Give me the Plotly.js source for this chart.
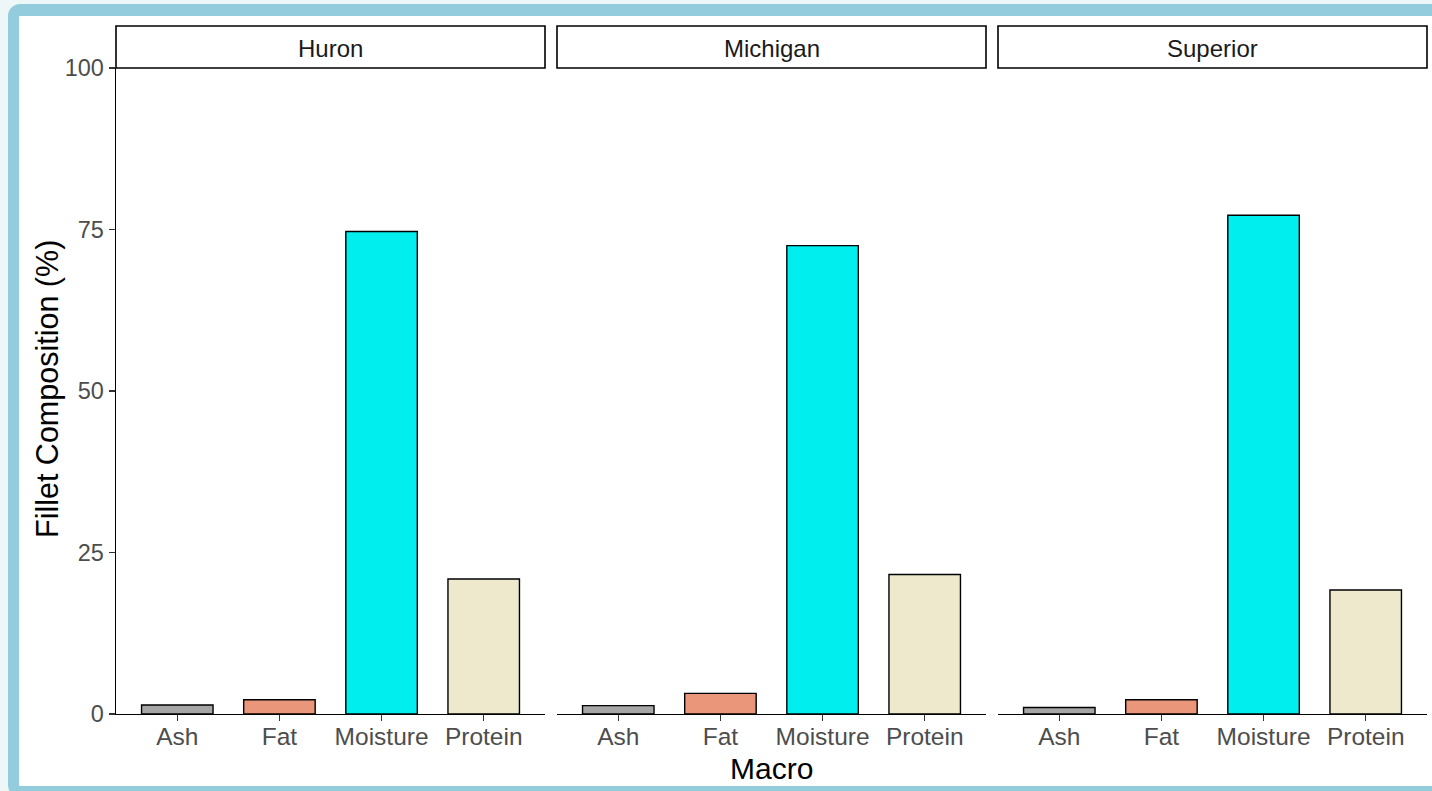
<!DOCTYPE html>
<html>
<head>
<meta charset="utf-8">
<script src="https://cdn.plot.ly/plotly-3.0.1.min.js"></script>
<style>
  html, body { margin:0; padding:0; width:1432px; height:791px; overflow:hidden; background:#eef7f8; }
  #frame { position:absolute; left:8px; top:4px; width:1440px; box-sizing:border-box;
           border:11px solid #93cddd; border-top-width:12px; border-radius:12px; background:#ffffff; height:793px; }
  #chart { position:absolute; left:0; top:0; width:1432px; height:791px; }
</style>
</head>
<body>
<div id="frame"></div>
<div id="chart"></div>
<script>
// ---- data ----
const macros = ["Ash", "Fat", "Moisture", "Protein"];
const lakes = ["Huron", "Michigan", "Superior"];
const huron = [1.4, 2.2, 74.7, 20.9];
const michigan = [1.3, 3.2, 72.5, 21.6];
const superior = [1.0, 2.2, 77.2, 19.2];
const macroColors = ["#a6a6a6", "#e9967a", "#00eeee", "#eee8cd"];
const yTicks = [0, 25, 50, 75, 100];

// ---- layout helpers (pixel -> paper) ----
const W = 1432, H = 791;
const px = v => v / W;
const py = v => 1 - v / H;
const panels = [[116, 545], [557, 986], [998, 1427]];
const yTop = 68, yBot = 714;

const font = "Liberation Sans, Arial, sans-serif";
const series = [huron, michigan, superior];
const traces = series.map((vals, i) => ({
  type: "bar",
  x: macros,
  y: vals,
  width: 0.7,
  xaxis: i === 0 ? "x" : "x" + (i + 1),
  yaxis: "y",
  marker: { color: macroColors, line: { color: "#000000", width: 1.4 } },
  showlegend: false,
  hoverinfo: "x+y"
}));

const layout = {
  width: W, height: H, autosize: false,
  margin: { l: 0, r: 0, t: 0, b: 0, pad: 0 },
  paper_bgcolor: "rgba(0,0,0,0)",
  plot_bgcolor: "rgba(0,0,0,0)",
  showlegend: false,
  bargap: 0.3,
  yaxis: {
    domain: [py(yBot), py(yTop)],
    range: [0, 100],
    anchor: "x",
    tickvals: yTicks,
    ticktext: yTicks.map(String),
    ticks: "outside", ticklen: 6, tickwidth: 1.3, tickcolor: "#333333",
    showline: true, linecolor: "#000000", linewidth: 1.4,
    showgrid: false, zeroline: false,
    tickfont: { family: font, size: 23.5, color: "#4d4d4d" },
    fixedrange: true
  },
  shapes: [],
  annotations: []
};

panels.forEach((p, i) => {
  const key = i === 0 ? "xaxis" : "xaxis" + (i + 1);
  layout[key] = {
    domain: [px(p[0]), px(p[1])],
    anchor: "y",
    type: "category",
    categoryorder: "array",
    categoryarray: macros,
    range: [-0.6, 3.6],
    ticks: "outside", ticklen: 6, tickwidth: 1.3, tickcolor: "#333333",
    ticklabelstandoff: -6,
    showline: true, linecolor: "#000000", linewidth: 1.4,
    showgrid: false, zeroline: false,
    tickfont: { family: font, size: 24.5, color: "#4d4d4d" },
    fixedrange: true
  };
  // strip box
  layout.shapes.push({
    type: "rect", xref: "paper", yref: "paper",
    x0: px(p[0]), x1: px(p[1]), y0: py(68), y1: py(26),
    line: { color: "#000000", width: 1.6 }, fillcolor: "#ffffff", layer: "above"
  });
  layout.annotations.push({
    xref: "paper", yref: "paper",
    x: px((p[0] + p[1]) / 2), y: py(48),
    xanchor: "center", yanchor: "middle",
    text: lakes[i], showarrow: false,
    font: { family: font, size: 24, color: "#1a1a1a" }
  });
});

layout.annotations.push({
  xref: "paper", yref: "paper",
  x: px(771), y: py(768),
  xanchor: "center", yanchor: "middle",
  text: "Macro", showarrow: false,
  font: { family: font, size: 30, color: "#000000" }
});
layout.annotations.push({
  xref: "paper", yref: "paper",
  x: px(47), y: py(389),
  xanchor: "center", yanchor: "middle",
  textangle: -90,
  text: "Fillet Composition (%)", showarrow: false,
  font: { family: font, size: 30.5, color: "#000000" }
});

Plotly.newPlot("chart", traces, layout, { staticPlot: true, displayModeBar: false });
</script>
</body>
</html>
